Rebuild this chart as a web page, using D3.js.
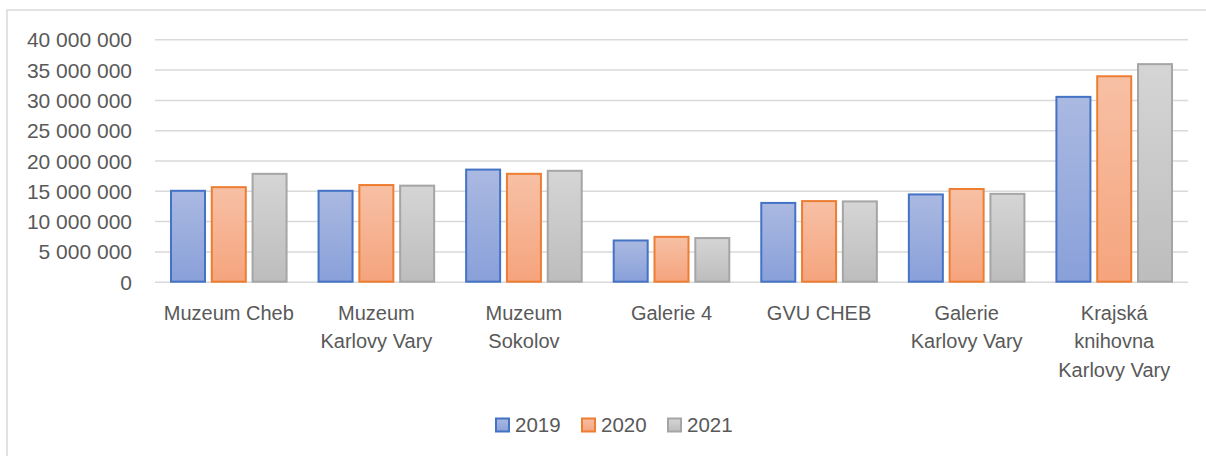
<!DOCTYPE html>
<html lang="cs">
<head>
<meta charset="UTF-8">
<title>Návštěvnost</title>
<style>
  body { margin: 0; background: #fff; }
  svg { display: block; font-family: "Liberation Sans", Arial, sans-serif; }
  .tick text { font-size: 20px; fill: #595959; }
  .yaxis .tick text { font-size: 21px; }
  .axis path, .axis line { display: none; }
  .grid line { stroke: #d9d9d9; stroke-width: 1.5; }
  .grid path { display: none; }
</style>
</head>
<body>
<svg width="1206" height="456"></svg>
<script src="https://d3js.org/d3.v7.min.js"></script>
<script>
// data
const categories = [
  "Muzeum Cheb",
  "Muzeum\nKarlovy Vary",
  "Muzeum\nSokolov",
  "Galerie 4",
  "GVU CHEB",
  "Galerie\nKarlovy Vary",
  "Krajská\nknihovna\nKarlovy Vary"
];
const years = ["2019", "2020", "2021"];
const values2019 = [15000000, 15000000, 18500000, 6800000, 13000000, 14400000, 30500000];
const values2020 = [15600000, 15950000, 17800000, 7400000, 13300000, 15300000, 33900000];
const values2021 = [17800000, 15850000, 18300000, 7200000, 13250000, 14500000, 35900000];
const yTicks = [0, 5000000, 10000000, 15000000, 20000000, 25000000, 30000000, 35000000, 40000000];

const series = [values2019, values2020, values2021];
const colors = [
  { stroke: "#4472c4", top: "#aab9e1", bottom: "#89a0d9" },
  { stroke: "#ed7d31", top: "#f7c0a5", bottom: "#f5a47d" },
  { stroke: "#a5a5a5", top: "#d5d5d5", bottom: "#bdbdbd" }
];

const svg = d3.select("svg");
const margin = { left: 155, right: 18, top: 39.3, bottom: 174.3 };
const W = 1206, H = 456;

// chart frame
svg.append("rect")
  .attr("x", 7).attr("y", 10)
  .attr("width", 1220).attr("height", 470)
  .attr("fill", "#fff").attr("stroke", "#d9d9d9").attr("stroke-width", 1.5);

const defs = svg.append("defs");
colors.forEach((c, i) => {
  const g = defs.append("linearGradient")
    .attr("id", "grad" + i)
    .attr("x1", 0).attr("y1", 0).attr("x2", 0).attr("y2", 1);
  g.append("stop").attr("offset", "0%").attr("stop-color", c.top);
  g.append("stop").attr("offset", "100%").attr("stop-color", c.bottom);
});

const x0 = d3.scaleBand()
  .domain(categories)
  .range([margin.left, W - margin.right])
  .padding(0);

const x1 = d3.scaleBand()
  .domain(years)
  .range([0, x0.bandwidth()])
  .paddingInner(0.1667)
  .paddingOuter(0.392);

const y = d3.scaleLinear()
  .domain([0, 40000000])
  .range([H - margin.bottom, margin.top]);

const cz = d3.formatLocale({ decimal: ",", thousands: " ", grouping: [3], currency: ["", " Kč"] });
const fmt = cz.format(",");

// gridlines
svg.append("g")
  .attr("class", "grid")
  .attr("transform", `translate(${margin.left},0)`)
  .call(d3.axisLeft(y).tickValues(yTicks).tickSize(-(W - margin.left - margin.right)).tickFormat(""));

// y axis labels
svg.append("g")
  .attr("class", "axis yaxis")
  .attr("transform", `translate(132,0)`)
  .call(d3.axisLeft(y).tickValues(yTicks).tickSize(0).tickPadding(0).tickFormat(fmt))
  .selectAll("text").attr("dy", "0.36em");

// bars
const groups = svg.append("g").selectAll("g")
  .data(categories)
  .join("g")
  .attr("transform", d => `translate(${x0(d)},0)`);

groups.selectAll("rect")
  .data((d, ci) => years.map((yr, si) => ({ yr, si, v: series[si][ci] })))
  .join("rect")
  .attr("x", d => x1(d.yr))
  .attr("y", d => y(d.v))
  .attr("width", x1.bandwidth())
  .attr("height", d => y(0) - y(d.v))
  .attr("fill", d => `url(#grad${d.si})`)
  .attr("stroke", d => colors[d.si].stroke)
  .attr("stroke-width", 2);

// x axis labels
const xAxis = svg.append("g")
  .attr("class", "axis")
  .attr("transform", `translate(0,${y(0)})`)
  .call(d3.axisBottom(x0).tickSize(0).tickFormat(""));

xAxis.selectAll(".tick").each(function (d) {
  const t = d3.select(this).append("text")
    .attr("text-anchor", "middle")
    .attr("y", 38);
  d.split("\n").forEach((line, i) => {
    t.append("tspan").attr("x", 0).attr("dy", i === 0 ? 0 : 28.5).text(line);
  });
});

// legend
const legendX = [496, 582, 668];
const legend = svg.append("g");
years.forEach((yr, i) => {
  legend.append("rect")
    .attr("x", legendX[i]).attr("y", 418.5)
    .attr("width", 13).attr("height", 13)
    .attr("fill", `url(#grad${i})`)
    .attr("stroke", colors[i].stroke).attr("stroke-width", 2);
  legend.append("text")
    .attr("x", legendX[i] + 19).attr("y", 432)
    .attr("font-size", 20.5).attr("fill", "#595959")
    .text(yr);
});
</script>
</body>
</html>
